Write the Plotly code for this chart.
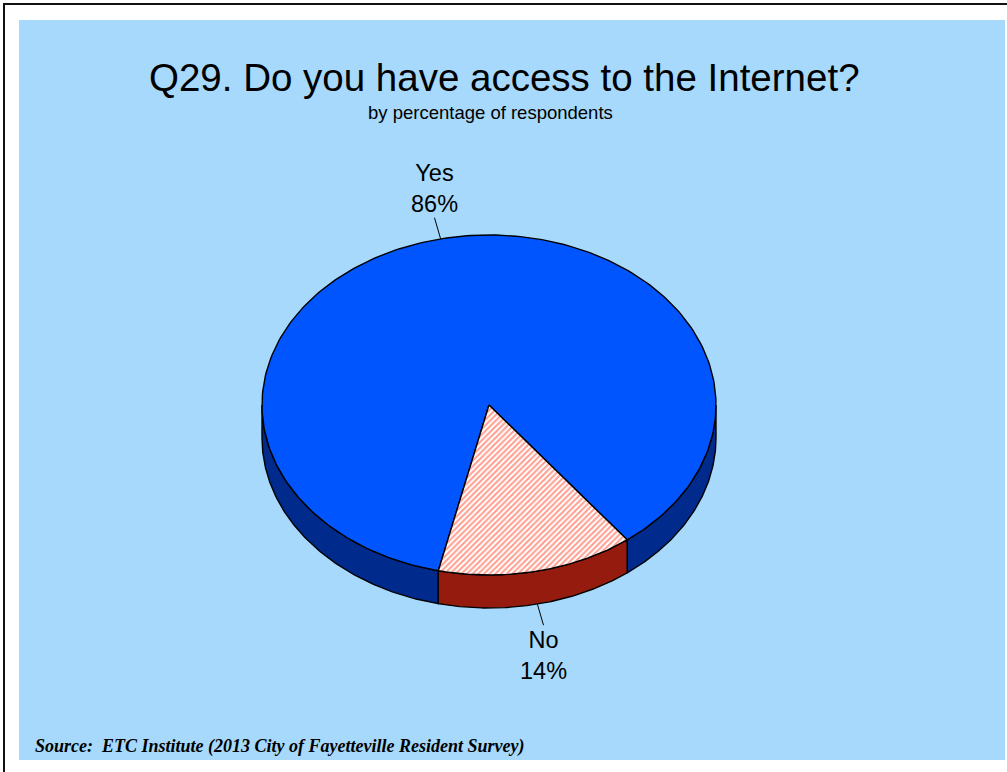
import numpy as np
import plotly.graph_objects as go

# ---- data ----
categories = ["Yes", "No"]
values = [86, 14]
labels = ["Yes<br>86%", "No<br>14%"]

# ---- styling / geometry (pixel space) ----
W, H = 1007, 772
CX, CY = 489, 405      # centre of top face
RX, RY = 227, 170      # radii of top ellipse
DEPTH = 33             # thickness of pie
START = 102.9          # angle (deg, clockwise from 3 o'clock) where first slice starts
top_colors = ["#0055FF", "white"]
side_colors = ["#002A8C", "#961B0F"]
hatch = [None, dict(shape="/", fgcolor="#FF3B1F", bgcolor="white", size=4, solidity=0.5)]
BG = "#A6D9FB"


def arc(t1, t2, dy=0.0, n=120):
    t = np.radians(np.linspace(t1, t2, n))
    return CX + RX * np.cos(t), CY + RY * np.sin(t) + dy


fig = go.Figure()

total = float(sum(values))
spans = []
a = START
for v in values:
    s = 360.0 * v / total
    spans.append((a, a + s))
    a += s

# side faces (visible front half: angles 0..180 mod 360)
for i, (a1, a2) in enumerate(spans):
    for k in (-1, 0, 1):
        lo, hi = max(a1, 0 + 360 * k), min(a2, 180 + 360 * k)
        if hi <= lo:
            continue
        xt, yt = arc(lo, hi)
        xb, yb = arc(hi, lo, DEPTH)
        xs = np.concatenate([xt, xb, xt[:1]])
        ys = np.concatenate([yt, yb, yt[:1]])
        fig.add_trace(go.Scatter(x=xs, y=ys, mode="lines", fill="toself",
                                 fillcolor=side_colors[i],
                                 line=dict(color="black", width=1.4),
                                 hoverinfo="skip", showlegend=False))

# top faces
for i, (a1, a2) in enumerate(spans):
    xt, yt = arc(a1, a2, n=300)
    xs = np.concatenate([[CX], xt, [CX]])
    ys = np.concatenate([[CY], yt, [CY]])
    kw = dict(fillcolor=top_colors[i])
    if hatch[i]:
        kw["fillpattern"] = hatch[i]
    fig.add_trace(go.Scatter(x=xs, y=ys, mode="lines", fill="toself",
                             line=dict(color="black", width=1.4),
                             hoverinfo="skip", showlegend=False, **kw))

# leader lines + labels
for i, (a1, a2) in enumerate(spans):
    m = np.radians((a1 + a2) / 2)
    c, s = np.cos(m), np.sin(m)
    px, py = CX + RX * c, CY + RY * s
    if s > 0:
        py += DEPTH
    d = np.array([RX * c, RY * s])
    d = d / np.linalg.norm(d)
    ex, ey = px + d[0] * 22, py + d[1] * 22
    fig.add_trace(go.Scatter(x=[px, ex], y=[py, ey], mode="lines",
                             line=dict(color="black", width=1),
                             hoverinfo="skip", showlegend=False))
    fig.add_annotation(x=ex, y=ey + (0 if s > 0 else 1), text=labels[i],
                       showarrow=False, xanchor="center",
                       yanchor="top" if s > 0 else "bottom",
                       font=dict(family="Liberation Sans, Arial", size=23.5, color="black"))

# titles
fig.add_annotation(x=504, y=77, text="Q29. Do you have access to the Internet?",
                   showarrow=False, xanchor="center", yanchor="middle",
                   font=dict(family="Liberation Sans, Arial", size=38.5, color="black"))
fig.add_annotation(x=490, y=112, text="by percentage of respondents",
                   showarrow=False, xanchor="center", yanchor="middle",
                   font=dict(family="Liberation Sans, Arial", size=18.5, color="black"))
fig.add_annotation(x=33, y=746, text="<b><i>Source:  ETC Institute (2013 City of Fayetteville Resident Survey)</i></b>",
                   showarrow=False, xanchor="left", yanchor="middle",
                   font=dict(family="Liberation Serif, Times New Roman", size=18, color="black"))

# background panel and frame lines
fig.add_shape(type="rect", x0=19, x1=1005, y0=20, y1=760, xref="x", yref="y",
              fillcolor=BG, line=dict(width=0), layer="below")
fig.add_shape(type="line", x0=3, x1=1007, y0=4, y1=4, xref="x", yref="y",
              line=dict(color="#111111", width=2), layer="below")
fig.add_shape(type="line", x0=4, x1=4, y0=3, y1=772, xref="x", yref="y",
              line=dict(color="#111111", width=2), layer="below")

fig.update_layout(
    width=W, height=H, margin=dict(l=0, r=0, t=0, b=0),
    paper_bgcolor="white", plot_bgcolor="white",
    xaxis=dict(range=[0, W], visible=False, fixedrange=True),
    yaxis=dict(range=[H, 0], visible=False, fixedrange=True),
    showlegend=False,
)

fig.write_html("out.html")
